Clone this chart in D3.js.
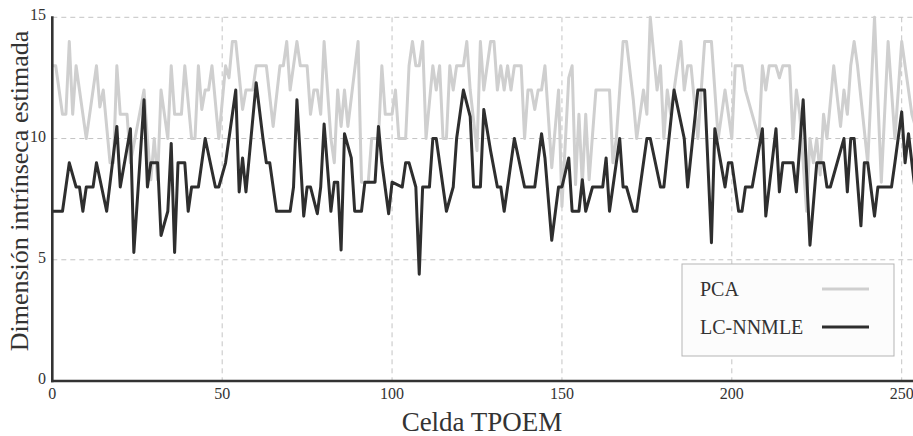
<!DOCTYPE html>
<html><head><meta charset="utf-8">
<script src="https://cdn.jsdelivr.net/npm/d3@7"></script>
<style>
body{margin:0;background:#fff}
svg{display:block}
text{font-family:"Liberation Serif","Times New Roman","DejaVu Serif",serif;fill:#333}
</style>
</head><body>
<svg id="chart" width="913" height="436"></svg>
<script>
// ---- data ----
const xTicks = [0, 50, 100, 150, 200, 250];
const yTicks = [0, 5, 10, 15];
const seriesNames = ["PCA", "LC-NNMLE"];
const xTitle = "Celda TPOEM";
const yTitle = "Dimensión intrínseca estimada";

// PCA: cell index and estimated dimension at each visible turning point
const pcaCell = [0,1,3,4,5,6,7,8,10,11,13,14,15,17,18,19,20,22,23,25,27,28,29,30,31,32,34,35,36,38,39,41,42,43,44,45,46,47,49,51,52,53,54,56,57,59,60,62,63,65,67,68,69,70,72,73,75,76,77,78,
  79,80,82,83,84,85,86,87,90,91,93,94,96,97,98,100,101,
  102,104,105,106,107,108,109,110,112,113,114,115,116,117,118,119,121,122,123,125,126,127,129,130,131,132,133,134,135,136,138,139,140,141,142,143,144,
  145,147,149,150,152,153,154,155,156,157,158,160,164,165,166,168,
  169,171,172,174,175,176,178,179,180,181,182,183,185,186,187,188,190,192,194,196,198,200,201,203,204,208,209,210,211,213,214,215,217,218,219,220,222,223,224,225,226,227,228,230,232,233,234,235,236,237,240,242,244,246,248,250,253,254];
const pcaValue = [13,13,11,11,14,11,13,12,10,11,13,11.3,12,9,9,13,11,11,9,10.5,12,10,8.3,10,8.3,12,10,13,11,11,13,10,10,13,11.2,12,12,13,10,13,12.5,14,14,11.2,12,12,13,13,13,10.5,13,13,14,12,14,13,13,11,12,12,
  11,14,10,9,12,10.5,12,10.5,14,8.2,8.2,10,10,13,11,11,12,
  10,10,13,14,13,13,14,10,13,12,13,10,10,13,12,13,13,14,12,9.5,14,12,14,14,12,13,12,13,12,13,13,10,12,12,11.2,12,12,
  13,8.8,12,7.2,12.5,13,8.1,11,8.1,11,8.3,12,12,9,10,14,
  14,11.6,10,12,11,15,12,13,10,12,11,12,14,12,13,13,10,14,14,10,12,10,13,13,12,10,13,12,13,13,12.5,13,13,10,12,11,7,10,9,10,8.5,11,10,13,10.5,12,11,13,14,13,9,15,8.2,14,10,14,11,10.5];

// LC-NNMLE: cell index and estimated dimension at each visible turning point
const lcCell = [0,3,5,7,8,9,10,12,13,16,19,20,23,24,27,28,29,31,32,34,35,36,37,39,40,41,43,45,48,49,51,54,55,56,57,60,62,63,64,66,70,71,72,74,75,76,78,79,
  80,82,83,84,85,86,88,89,91,92,95,96,97,99,100,
  103,104,105,107,108,109,111,112,113,115,116,118,119,121,123,124,126,127,129,131,132,133,136,139,142,144,145,147,149,150,152,153,155,156,157,159,162,163,164,167,168,169,171,172,175,176,179,180,183,186,187,190,192,194,195,198,199,200,202,203,204,206,209,210,213,214,215,218,219,221,223,225,227,228,229,233,234,235,236,238,239,240,242,243,247,248,250,251,252,254];
const lcValue = [7,7,9,8,8,7,8,8,9,7,10.5,8,10.4,5.3,11.6,8,9,9,6,7,9.8,5.3,9,9,7,8,8,10,8,8,9,12,7.8,9.2,7.8,12.3,10,9,9,7,7,8,11.6,6.8,8,8,6.9,8,
  10.6,7,8.2,8.2,5.4,10.2,9.2,7,7,8.2,8.2,10.5,9,6.9,8.2,
  8,9,9,8,4.4,8,8,10,10,8,7,8,10,12,10.9,8,8,11.2,9.5,8,8,7,10,8,8,10.2,9.2,5.8,8,8,9.2,7,7,8.3,7,8,8,9.2,7,10,8,8,7,7,10,10,8,8,12,10,8,12,12,5.7,10.4,8,9,9,7,7,8,8,10.4,6.8,10.4,7.8,9,9,7.8,11.6,5.6,9,9,8,8,10,7.8,10,10,6.4,9,9,6.8,8,8,9,11.1,9,10.2,7.8];

// ---- chart ----
const W = 913, H = 436;
const svg = d3.select("#chart");
const x = d3.scaleLinear().domain([0, 250]).range([52.3, 901.7]);
const y = d3.scaleLinear().domain([0, 15]).range([381, 17.3]);
const plotRight = W;

// grid
const grid = svg.append("g").attr("stroke", "#c4c4c4").attr("stroke-width", 1).attr("stroke-dasharray", "5,4");
grid.selectAll("line.v").data(xTicks.filter(d => d > 0)).join("line")
  .attr("x1", d => x(d)).attr("x2", d => x(d)).attr("y1", y(15)).attr("y2", y(0));
grid.selectAll("line.h").data(yTicks.filter(d => d > 0)).join("line")
  .attr("x1", x(0)).attr("x2", plotRight).attr("y1", d => y(d)).attr("y2", d => y(d));

// series
const line = d3.line().x(d => x(d[0])).y(d => y(d[1]));
const pcaPts = pcaCell.map((c, i) => [c, pcaValue[i]]);
const lcPts = lcCell.map((c, i) => [c, lcValue[i]]);
svg.append("path").datum(pcaPts).attr("d", line)
  .attr("fill", "none").attr("stroke", "#cfcfcf").attr("stroke-width", 3).attr("stroke-linejoin", "round");
svg.append("path").datum(lcPts).attr("d", line)
  .attr("fill", "none").attr("stroke", "#2e2e2e").attr("stroke-width", 3).attr("stroke-linejoin", "round");

// spines
svg.append("line").attr("x1", x(0)).attr("x2", x(0)).attr("y1", y(15) - 1).attr("y2", y(0) + 1.3)
  .attr("stroke", "#333").attr("stroke-width", 2.6);
svg.append("line").attr("x1", x(0) - 1.3).attr("x2", plotRight).attr("y1", y(0)).attr("y2", y(0))
  .attr("stroke", "#333").attr("stroke-width", 2.6);

// tick labels
svg.append("g").selectAll("text").data(xTicks).join("text")
  .attr("x", d => x(d)).attr("y", 399).attr("text-anchor", "middle")
  .attr("font-size", 16).text(d => d);
svg.append("g").selectAll("text").data(yTicks).join("text")
  .attr("x", 46).attr("y", d => y(d) + 3).attr("text-anchor", "end")
  .attr("font-size", 16).text(d => d);

// axis titles
svg.append("text").attr("x", 482).attr("y", 431).attr("text-anchor", "middle")
  .attr("font-size", 27).text(xTitle);
svg.append("text").attr("transform", "translate(28,191) rotate(-90)").attr("text-anchor", "middle")
  .attr("font-size", 26).text(yTitle);

// legend
const lg = svg.append("g");
lg.append("rect").attr("x", 682).attr("y", 264).attr("width", 212).attr("height", 92)
  .attr("fill", "#fcfcfc").attr("stroke", "#b5b5b5").attr("stroke-width", 1);
const legendColors = ["#cfcfcf", "#2e2e2e"];
seriesNames.forEach((name, i) => {
  const cy = 289 + i * 38;
  lg.append("text").attr("x", 700).attr("y", cy + 7).attr("font-size", 20).text(name);
  lg.append("line").attr("x1", 822).attr("x2", 869).attr("y1", cy).attr("y2", cy)
    .attr("stroke", legendColors[i]).attr("stroke-width", 3);
});
</script>
</body></html>
